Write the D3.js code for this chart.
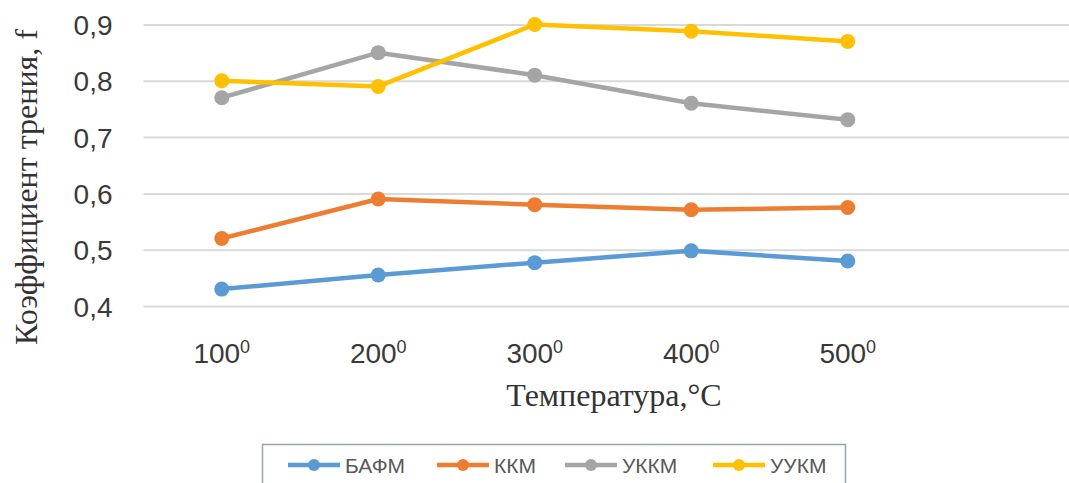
<!DOCTYPE html>
<html><head><meta charset="utf-8">
<script src="https://cdn.jsdelivr.net/npm/d3@7/dist/d3.min.js"></script>
<style>
html,body{margin:0;padding:0;background:#fff;}
svg{display:block;}
</style></head>
<body>
<svg id="chart" width="1069" height="483"></svg>
<script>
const categories = ["100", "200", "300", "400", "500"];
const yTicks = [0.4, 0.5, 0.6, 0.7, 0.8, 0.9];
const seriesNames = ["БАФМ", "ККМ", "УККМ", "УУКМ"];
const bafm = [0.43, 0.455, 0.477, 0.498, 0.48];
const kkm  = [0.52, 0.59, 0.58, 0.571, 0.575];
const ukkm = [0.77, 0.85, 0.81, 0.76, 0.731];
const uukm = [0.80, 0.79, 0.90, 0.888, 0.87];
const colors = ["#5b9bd5", "#ed7d31", "#a5a5a5", "#ffc000"];
const seriesValues = [bafm, kkm, ukkm, uukm];

const svg = d3.select("#chart");
const plotLeft = 143.5, bandW = 156.5, plotRight = 1069;
const x = d3.scaleBand().domain(categories).range([plotLeft, plotLeft + bandW * categories.length]).padding(0);
const y = d3.scaleLinear().domain([0.4, 0.9]).range([306, 24.5]);
const cx = d => x(d) + x.bandwidth() / 2;

// gridlines + y labels
const yAxis = d3.axisLeft(y).tickValues(yTicks)
  .tickSize(-(plotRight - plotLeft))
  .tickFormat(d => d3.format(".1f")(d).replace(".", ","))
  .tickPadding(30);
const gy = svg.append("g").attr("transform", `translate(${plotLeft},0)`).call(yAxis);
gy.select(".domain").remove();
gy.selectAll(".tick line").attr("stroke", "#d9d9d9").attr("stroke-width", 2);
gy.selectAll(".tick text").attr("font-family", "Liberation Sans, Arial, sans-serif")
  .attr("font-size", 28).attr("fill", "#3a3a3a").attr("x", -31).attr("dy", "0.36em");

// x labels
const xAxis = d3.axisBottom(x).tickSize(0).tickFormat(d => d);
const gx = svg.append("g").attr("transform", `translate(0,306)`).call(xAxis);
gx.select(".domain").remove();
gx.selectAll(".tick text").each(function(d) {
  const t = d3.select(this);
  t.text(null).attr("font-family", "Liberation Sans, Arial, sans-serif")
    .attr("font-size", 28).attr("fill", "#3a3a3a").attr("y", 57).attr("dy", 0);
  t.append("tspan").text(d);
  t.append("tspan").text("0").attr("font-size", 18).attr("dy", -10);
});

// axis titles
svg.append("text").attr("x", 614).attr("y", 406).attr("text-anchor", "middle")
  .attr("font-family", "Liberation Serif, Times New Roman, serif").attr("font-size", 32)
  .attr("fill", "#333").text("Температура,°С");
svg.append("text").attr("transform", "translate(37,187) rotate(-90)").attr("text-anchor", "middle")
  .attr("font-family", "Liberation Serif, Times New Roman, serif").attr("font-size", 32)
  .attr("fill", "#333").text("Коэффициент трения, f");

// lines
const line = d3.line().x((v, i) => cx(categories[i])).y(v => y(v));
seriesValues.forEach((vals, si) => {
  svg.append("path").datum(vals).attr("d", line).attr("fill", "none")
    .attr("stroke", colors[si]).attr("stroke-width", 4.5).attr("stroke-linejoin", "round");
  svg.append("g").selectAll("circle").data(vals).join("circle")
    .attr("cx", (v, i) => cx(categories[i])).attr("cy", v => y(v)).attr("r", 7.5)
    .attr("fill", colors[si]);
});

// legend
svg.append("rect").attr("x", 262.5).attr("y", 444.5).attr("width", 583).attr("height", 60)
  .attr("fill", "#fff").attr("stroke", "#9aa3b3").attr("stroke-width", 1.5);
const legX = [288, 437, 565, 713];
seriesNames.forEach((n, i) => {
  const g = svg.append("g");
  g.append("line").attr("x1", legX[i]).attr("x2", legX[i] + 52).attr("y1", 465).attr("y2", 465)
    .attr("stroke", colors[i]).attr("stroke-width", 4.5);
  g.append("circle").attr("cx", legX[i] + 26).attr("cy", 465).attr("r", 6).attr("fill", colors[i]);
  g.append("text").attr("x", legX[i] + 57).attr("y", 465).attr("dy", "0.36em")
    .attr("font-family", "Liberation Sans, Arial, sans-serif").attr("font-size", 21)
    .attr("fill", "#595959").text(n);
});
</script>
</body></html>
